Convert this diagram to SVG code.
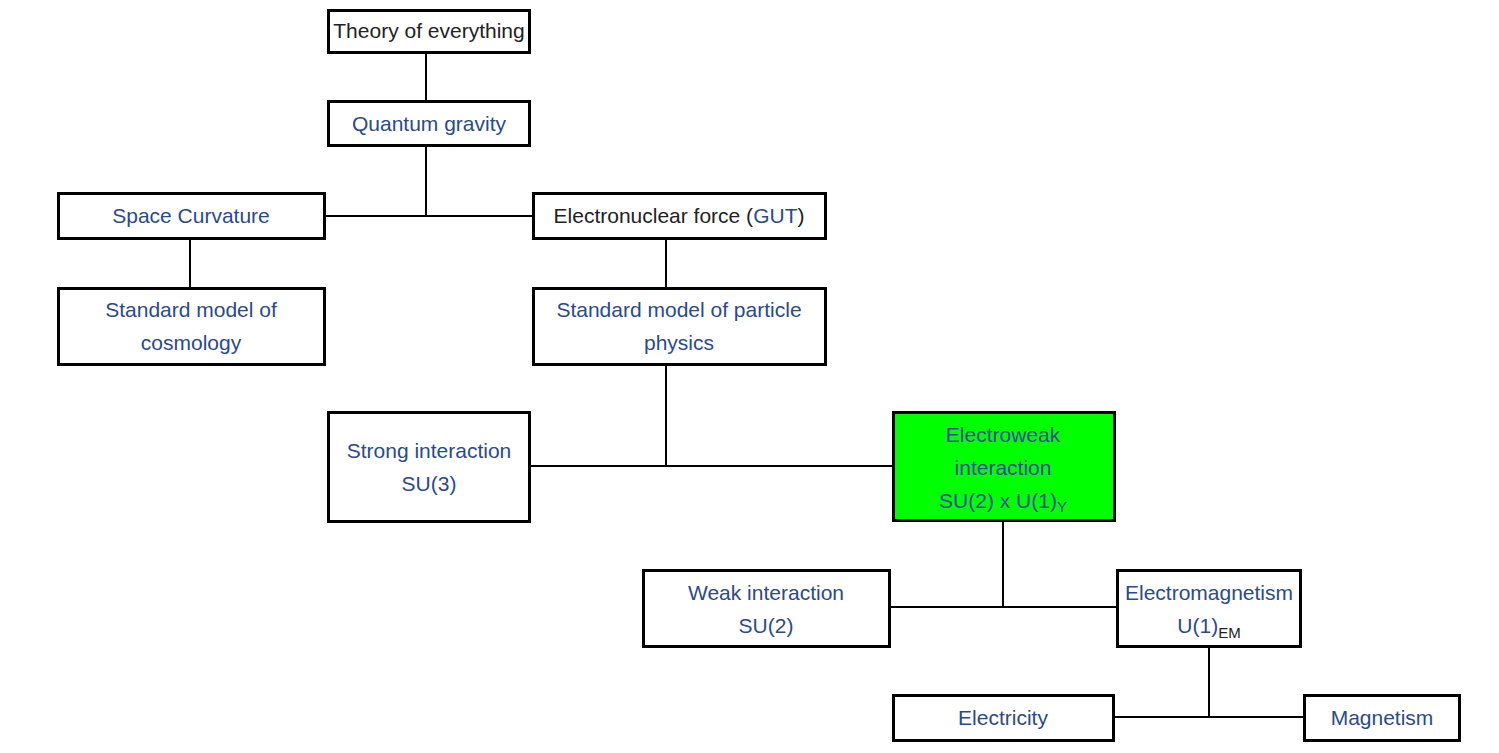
<svg xmlns="http://www.w3.org/2000/svg" width="1499" height="753" viewBox="0 0 1499 753">
<style>
.box{fill:#fff;stroke:#000;stroke-width:3}
.ew{fill:#00ff00;stroke:#000;stroke-width:3}
.ln{stroke:#000;stroke-width:2;fill:none}
text{font-family:"Liberation Sans",Arial,sans-serif;font-size:21px;text-anchor:middle}
.b{fill:#2a4a8c}
.k{fill:#222}
.g{fill:#3b47a2}
.sub{font-size:15px}
</style>
<rect width="1499" height="753" fill="#fff"/>
<g id="connectors">
<path class="ln" d="M426 53V101"/>
<path class="ln" d="M426 146V216M325 216H532"/>
<path class="ln" d="M190 239V288"/>
<path class="ln" d="M666 239V288"/>
<path class="ln" d="M666 365V466M531 466H893"/>
<path class="ln" d="M1003 521V607M890 607H1117"/>
<path class="ln" d="M1209 647V717M1114 717H1304"/>
</g>
<g id="toe"><rect class="box" x="328.5" y="10.5" width="201" height="42"/><text class="k" x="429" y="38">Theory of everything</text></g>
<g id="qg"><rect class="box" x="328.5" y="101.5" width="201" height="44"/><text class="b" x="429" y="131">Quantum gravity</text></g>
<g id="sc"><rect class="box" x="58.5" y="193.5" width="266" height="45"/><text class="b" x="191" y="223">Space Curvature</text></g>
<g id="enf"><rect class="box" x="533.5" y="193.5" width="292" height="45"/><text class="k" x="679" y="223">Electronuclear force (<tspan class="b">GUT</tspan>)</text></g>
<g id="smc"><rect class="box" x="58.5" y="288.5" width="266" height="76"/><text class="b" x="191" y="317">Standard model of</text><text class="b" x="191" y="350">cosmology</text></g>
<g id="smp"><rect class="box" x="533.5" y="288.5" width="292" height="76"/><text class="b" x="679" y="317">Standard model of particle</text><text class="b" x="679" y="350">physics</text></g>
<g id="strong"><rect class="box" x="328.5" y="412.5" width="201" height="109"/><text class="b" x="429" y="458">Strong interaction</text><text class="b" x="429" y="491">SU(3)</text></g>
<g id="ew"><rect class="ew" x="893.5" y="412.5" width="221" height="108"/><text class="g" x="1003" y="442">Electroweak</text><text class="g" x="1003" y="475">interaction</text><text class="g" x="1003" y="508">SU(2) x U(1)<tspan class="sub" dy="4">Y</tspan></text></g>
<g id="weak"><rect class="box" x="643.5" y="570.5" width="246" height="76"/><text class="b" x="766" y="600">Weak interaction</text><text class="b" x="766" y="633">SU(2)</text></g>
<g id="em"><rect class="box" x="1117.5" y="570.5" width="183" height="76"/><text class="b" x="1209" y="600">Electromagnetism</text><text class="b" x="1209" y="633">U(1)<tspan class="k sub" dy="5">EM</tspan></text></g>
<g id="elec"><rect class="box" x="893.5" y="695.5" width="220" height="45"/><text class="b" x="1003" y="725">Electricity</text></g>
<g id="mag"><rect class="box" x="1304.5" y="695.5" width="155" height="45"/><text class="b" x="1382" y="725">Magnetism</text></g>
</svg>
